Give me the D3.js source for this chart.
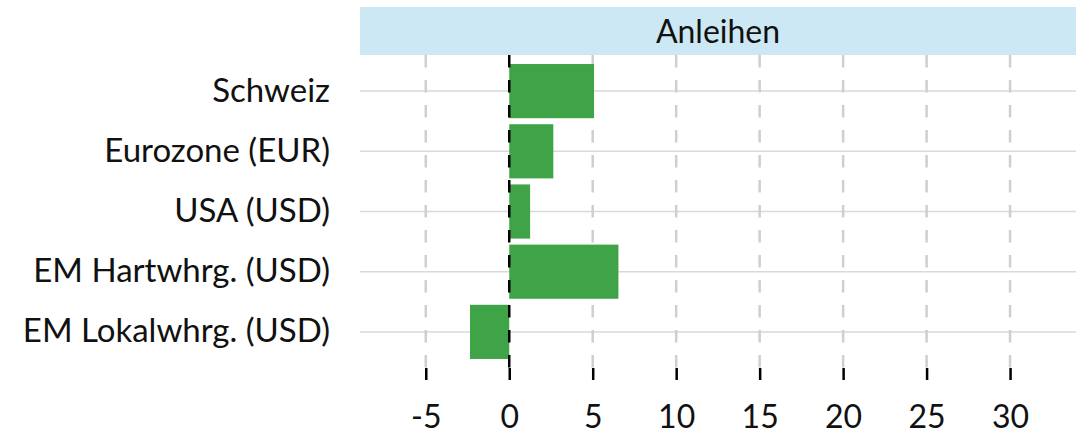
<!DOCTYPE html>
<html>
<head>
<meta charset="utf-8">
<script src="https://cdn.jsdelivr.net/npm/d3@7"></script>
<style>
  html, body { margin: 0; padding: 0; background: #fff; }
  svg { display: block; }
  text { font-family: Lato, "Open Sans", sans-serif; fill: #111; }
</style>
</head>
<body>
<svg id="chart" width="1076" height="434"></svg>
<script>
const categories = ["Schweiz", "Eurozone (EUR)", "USA (USD)", "EM Hartwhrg. (USD)", "EM Lokalwhrg. (USD)"];
const values = [5.08, 2.64, 1.25, 6.54, -2.35];
const xTicks = [-5, 0, 5, 10, 15, 20, 25, 30];
const panelTitle = "Anleihen";

const W = 1076, H = 434;
const panel = { left: 360, right: 1076, top: 55, bottom: 368 };
const strip = { top: 7, bottom: 55 };
const FONT = "Lato, 'Open Sans', sans-serif";

const svg = d3.select("#chart");

const x = d3.scaleLinear().domain([-8.94, 33.95]).range([panel.left, panel.right]);
const y = d3.scaleBand().domain(categories)
  .range([panel.top, panel.bottom])
  .paddingInner(0.1).paddingOuter(0.15);

// strip
svg.append("rect")
  .attr("x", panel.left).attr("y", strip.top)
  .attr("width", panel.right - panel.left).attr("height", strip.bottom - strip.top)
  .attr("fill", "#cce8f4");
svg.append("text")
  .attr("x", (panel.left + panel.right) / 2).attr("y", (strip.top + strip.bottom) / 2)
  .attr("text-anchor", "middle").attr("dy", "0.36em")
  .attr("font-size", 32).text(panelTitle);

// horizontal gridlines
svg.append("g").selectAll("line").data(categories).join("line")
  .attr("x1", panel.left).attr("x2", panel.right)
  .attr("y1", d => y(d) + y.bandwidth() / 2).attr("y2", d => y(d) + y.bandwidth() / 2)
  .attr("stroke", "#d9d9d9").attr("stroke-width", 1.5);

// vertical dashed gridlines
svg.append("g").selectAll("line").data(xTicks.filter(t => t !== 0)).join("line")
  .attr("x1", d => x(d)).attr("x2", d => x(d))
  .attr("y1", panel.top).attr("y2", panel.bottom)
  .attr("stroke", "#cfcfcf").attr("stroke-width", 2.5)
  .attr("stroke-dasharray", "12.5,12.5");

// bars
svg.append("g").selectAll("rect").data(categories).join("rect")
  .attr("x", (d, i) => Math.min(x(0), x(values[i])))
  .attr("width", (d, i) => Math.abs(x(values[i]) - x(0)))
  .attr("y", d => y(d)).attr("height", y.bandwidth())
  .attr("fill", "#3fa447");

// zero line
svg.append("line")
  .attr("x1", x(0)).attr("x2", x(0))
  .attr("y1", panel.top).attr("y2", panel.bottom)
  .attr("stroke", "#000").attr("stroke-width", 2.5)
  .attr("stroke-dasharray", "12.5,12.5");

// x axis
const xAxis = d3.axisBottom(x).tickValues(xTicks).tickSize(12).tickPadding(25)
  .tickFormat(d => String(d));
const gx = svg.append("g").attr("transform", `translate(0,${panel.bottom})`).call(xAxis);
gx.select(".domain").remove();
gx.selectAll(".tick line").attr("stroke", "#000").attr("stroke-width", 2.5);
gx.selectAll(".tick text").attr("font-size", 32).attr("font-family", FONT).attr("fill", "#111");

// y axis
const yAxis = d3.axisLeft(y).tickSize(0).tickPadding(30);
const gy = svg.append("g").attr("transform", `translate(${panel.left},0)`).call(yAxis);
gy.select(".domain").remove();
gy.selectAll(".tick text").attr("font-size", 33).attr("font-family", FONT).attr("fill", "#111");
</script>
</body>
</html>
